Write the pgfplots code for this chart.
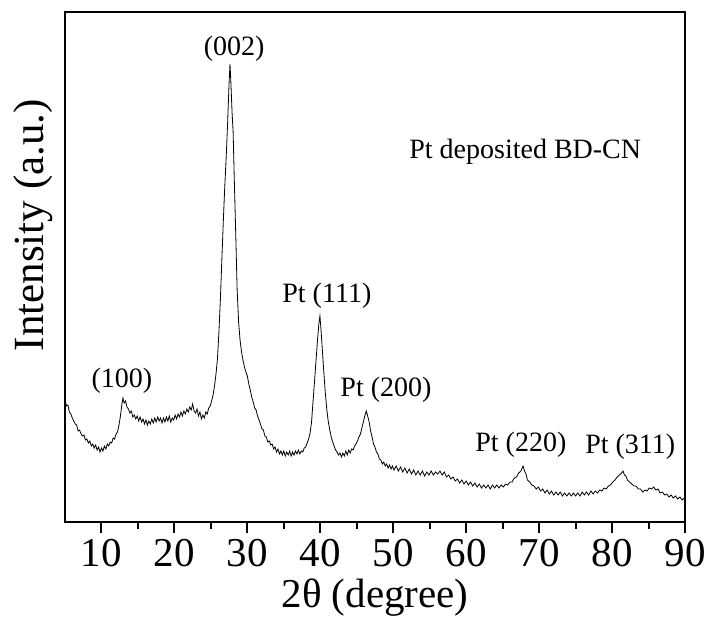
\documentclass[border=0pt]{standalone}
\usepackage{fontspec}
\setmainfont{Liberation Serif}
\usepackage{pgfplots}
\pgfplotsset{compat=1.18}

\pgfplotstableread{
x y
5.0 122
5.2 116
5.4 117
5.6 110
5.8 108
6.0 104
6.2 101
6.4 98
6.6 97
6.8 91
7.0 92
7.2 88
7.4 86
7.6 87
7.8 82
8.0 83
8.2 79
8.4 81
8.6 76
8.8 78
9.0 74
9.2 77
9.4 72
9.6 75
9.8 70
10.0 74
10.2 71
10.4 76
10.6 73
10.8 78
11.0 76
11.2 80
11.4 79
11.6 84
11.8 83
12.0 88
12.2 90
12.4 97
12.6 106
12.8 118
12.95 124
13.1 119
13.3 121
13.5 115
13.7 113
13.9 109
14.1 111
14.3 105
14.5 107
14.7 103
14.9 106
15.1 101
15.3 105
15.5 100
15.7 103
15.9 98
16.1 102
16.3 97
16.5 101
16.7 98
16.9 103
17.1 99
17.3 104
17.5 100
17.7 105
17.9 101
18.1 104
18.3 99
18.5 104
18.7 100
18.9 105
19.1 101
19.3 106
19.5 100
19.7 104
19.9 102
20.1 107
20.3 103
20.5 108
20.7 105
20.9 110
21.1 106
21.3 111
21.5 108
21.7 113
21.9 110
22.1 115
22.3 112
22.5 118
22.7 111
22.9 109
23.1 113
23.3 106
23.5 110
23.7 103
23.9 107
24.1 104
24.3 110
24.5 108
24.7 114
24.9 116
25.1 121
25.3 127
25.5 136
25.7 148
25.9 163
26.1 190
26.3 222
26.5 262
26.7 300
26.9 335
27.1 365
27.3 400
27.5 440
27.62 458
27.75 438
27.9 410
28.05 390
28.2 345
28.4 290
28.6 232
28.8 200
29.0 182
29.2 170
29.4 162
29.6 155
29.8 150
30.0 146
30.2 138
30.4 132
30.6 125
30.8 120
31.0 114
31.2 112
31.4 106
31.6 102
31.8 98
32.0 93
32.2 92
32.4 86
32.6 85
32.8 80
33.0 81
33.2 77
33.4 78
33.6 73
33.8 75
34.0 70
34.2 73
34.4 68
34.6 71
34.8 67
35.0 71
35.2 66
35.4 70
35.6 67
35.8 71
36.0 66
36.2 70
36.4 67
36.6 71
36.8 68
37.0 72
37.2 68
37.4 71
37.6 70
37.8 74
38.0 75
38.2 79
38.4 83
38.6 89
38.8 100
39.0 120
39.2 140
39.4 160
39.6 180
39.8 198
39.95 206
40.1 192
40.3 170
40.5 148
40.7 128
40.9 112
41.1 100
41.3 92
41.5 85
41.7 80
41.9 76
42.1 72
42.3 70
42.5 67
42.7 69
42.9 65
43.1 69
43.3 66
43.5 71
43.7 67
43.9 72
44.1 69
44.3 73
44.5 72
44.7 76
44.9 78
45.1 81
45.3 85
45.5 88
45.7 94
45.9 100
46.1 106
46.3 111
46.5 106
46.7 100
46.9 91
47.1 85
47.3 78
47.5 75
47.7 70
47.9 68
48.1 63
48.3 62
48.5 58
48.7 60
48.9 56
49.1 58
49.3 54
49.5 57
49.7 53
49.9 56
50.1 52
50.4 56
50.7 51
51.0 55
51.3 50
51.6 54
51.9 49
52.2 53
52.5 48
52.8 52
53.1 47
53.4 51
53.7 47
54.0 51
54.3 46
54.6 50
54.9 47
55.2 51
55.5 47
55.8 50
56.1 48
56.4 51
56.7 47
57.0 50
57.3 45
57.6 47
57.9 43
58.2 45
58.5 41
58.8 43
59.1 39
59.4 42
59.7 38
60.0 41
60.3 37
60.6 40
60.9 36
61.2 39
61.5 35
61.8 38
62.1 34
62.4 37
62.7 34
63.0 37
63.3 33
63.6 37
63.9 34
64.2 37
64.5 34
64.8 37
65.1 35
65.4 38
65.7 37
66.0 40
66.3 40
66.6 44
66.9 45
67.2 49
67.5 51
67.8 56
68.0 51
68.2 48
68.4 42
68.7 40
69.0 37
69.3 36
69.6 33
69.9 35
70.2 31
70.5 33
70.8 29
71.1 32
71.4 28
71.7 31
72.0 27
72.3 30
72.6 27
72.9 30
73.2 26
73.5 29
73.8 26
74.1 29
74.4 26
74.7 29
75.0 26
75.3 29
75.6 26
75.9 30
76.2 27
76.5 30
76.8 27
77.1 31
77.4 28
77.7 31
78.0 29
78.3 32
78.6 31
78.9 34
79.2 33
79.5 36
79.8 37
80.1 40
80.4 42
80.7 45
81.0 47
81.3 49
81.5 51
81.7 47
81.9 46
82.1 42
82.4 40
82.7 38
83.0 36
83.3 36
83.6 33
83.9 33
84.2 30
84.5 32
84.8 31
85.1 34
85.4 33
85.7 35
86.0 32
86.3 33
86.6 29
86.9 30
87.2 27
87.5 28
87.8 25
88.1 27
88.4 24
88.7 26
89.0 23
89.3 25
89.6 22
89.9 24
90.0 23
}\xrd

\begin{document}
\begin{tikzpicture}
\begin{axis}[
    scale only axis,
    width=620pt, height=510pt,
    xmin=5, xmax=90, ymin=0, ymax=510,
    xtick={10,20,...,90},
    minor xtick={15,25,...,85},
    ytick=\empty,
    xtick pos=bottom,
    tick align=outside,
    major tick length=11pt,
    minor tick length=7pt,
    tick style={line width=2pt, black},
    axis line style={line width=2.6pt},
    /pgf/number format/assume math mode=true,
    ticklabel style={font=\fontsize{41}{41}\selectfont},
    xticklabel style={yshift=-3pt},
    xlabel={2θ (degree)},
    ylabel={Intensity (a.u.)},
    xlabel style={font=\fontsize{41}{41}\selectfont, at={(axis description cs:0.5,-0.148)}, anchor=center},
    ylabel style={font=\fontsize{43}{43}\selectfont, at={(axis description cs:-0.0516,0.582)}, anchor=center, rotate=0},
]
\addplot[black, line width=0.8pt] table[x=x, y=y] {\xrd};
\begin{scope}[every node/.style={font=\fontsize{28}{28}\selectfont, anchor=center}]
\node at (axis cs:12.8,141) {(100)};
\node at (axis cs:28.2,473) {(002)};
\node at (axis cs:40.9,226) {Pt (111)};
\node at (axis cs:49.0,132) {Pt (200)};
\node at (axis cs:67.5,77) {Pt (220)};
\node at (axis cs:82.5,75) {Pt (311)};
\node at (axis cs:68.1,370) {Pt deposited BD-CN};
\end{scope}
\end{axis}
\path ([shift={(-65pt,-99pt)}]current axis.south west) rectangle ([shift={(24pt,12pt)}]current axis.north east);
\end{tikzpicture}
\end{document}
